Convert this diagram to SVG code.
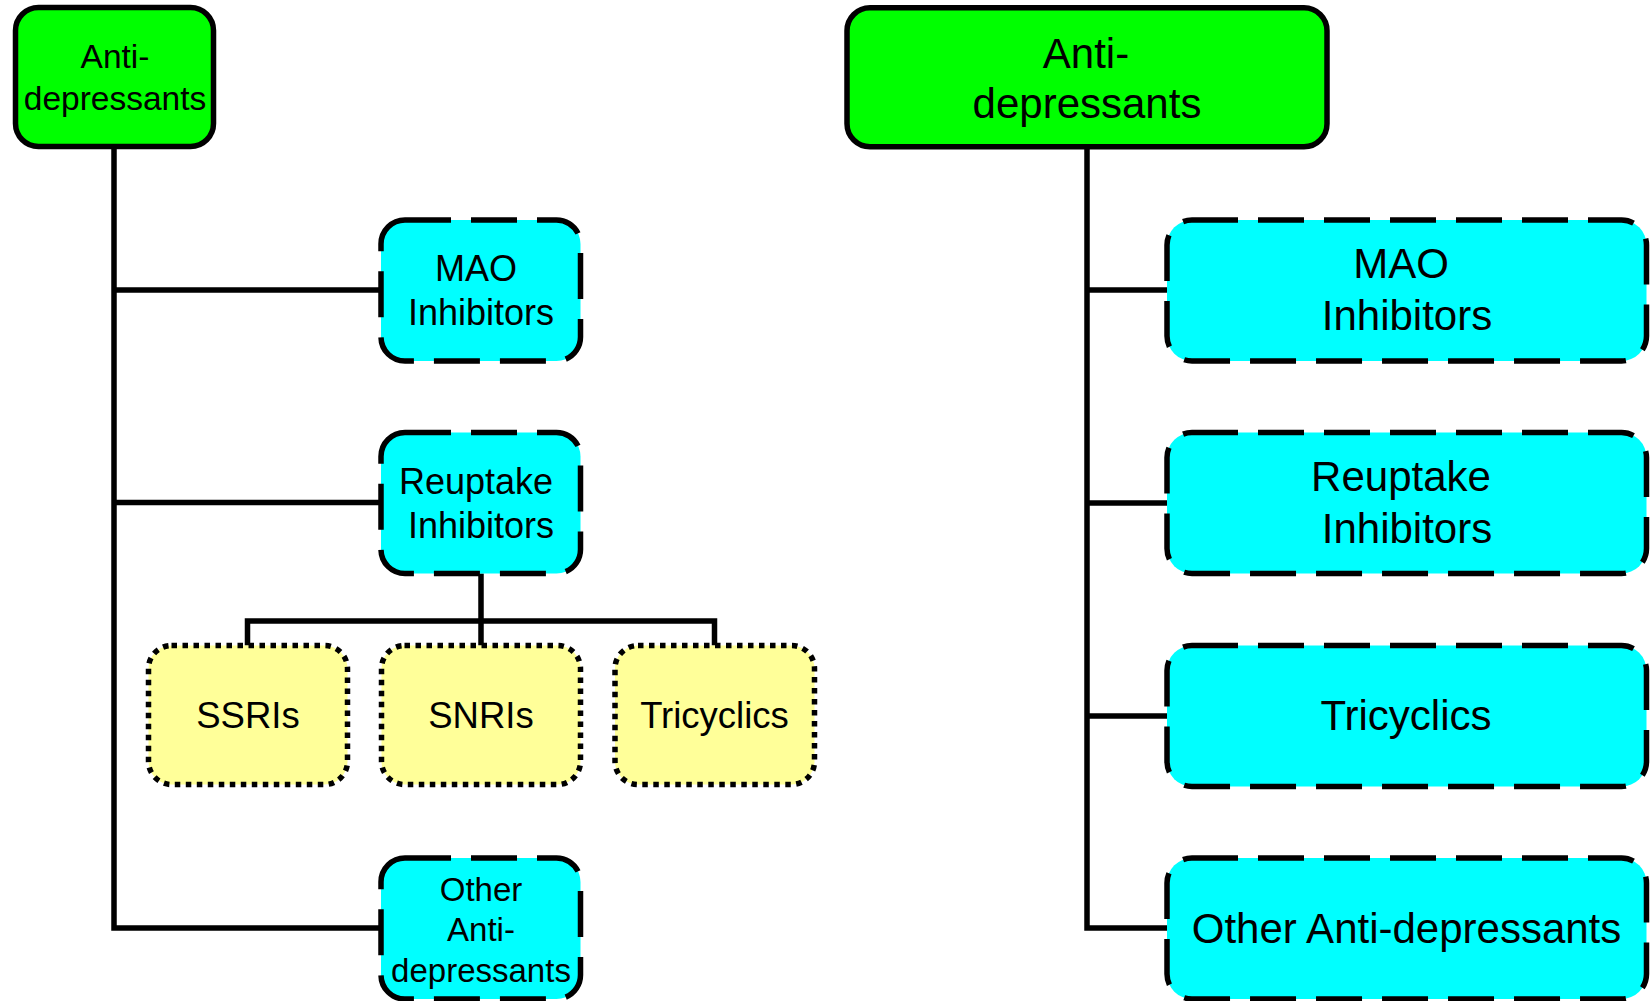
<svg xmlns="http://www.w3.org/2000/svg" width="1652" height="1001" viewBox="0 0 1652 1001">
<style>
.conn{fill:none;stroke:#000;stroke-width:5.5;stroke-linecap:butt;stroke-linejoin:miter}
.green{fill:#00FF00;stroke:#000;stroke-width:5.5}
.cyan{fill:#00FFFF;stroke:#000;stroke-width:5.5;stroke-dasharray:46 20}
.yellow{fill:#FFFF99;stroke:#000;stroke-width:5.5;stroke-dasharray:5.5 5.5}
text{font-family:"Liberation Sans",Arial,sans-serif;fill:#000;text-anchor:middle}
.s33{font-size:33px}
.s34{font-size:33.5px}
.s36{font-size:36px}
.s37{font-size:36.5px}
.s42{font-size:42px}
</style>
<rect width="1652" height="1001" fill="#fff"/>
<g id="connectors">
<path class="conn" d="M114,147 V928 H381 M114,290 H381 M114,502.5 H381"/>
<path class="conn" d="M481,573.5 V645.5 M247.5,645.5 V621 H714.5 V645.5"/>
<path class="conn" d="M1087,147 V928 H1167 M1087,290 H1167 M1087,503 H1167 M1087,716 H1167"/>
</g>
<g id="left-root">
<rect class="green" x="15.5" y="7.5" width="198" height="139" rx="23"/>
<text class="s34" x="115" y="68.3">Anti-</text>
<text class="s34" x="115" y="110">depressants</text>
</g>
<g id="left-mao">
<rect class="cyan" x="381" y="220" width="199.5" height="141" rx="24"/>
<text class="s36" x="476" y="281">MAO</text>
<text class="s36" x="481" y="325">Inhibitors</text>
</g>
<g id="left-reuptake">
<rect class="cyan" x="381" y="432.5" width="199.5" height="141" rx="24"/>
<text class="s36" x="476" y="494">Reuptake</text>
<text class="s36" x="481" y="538">Inhibitors</text>
</g>
<g id="left-ssris">
<rect class="yellow" x="148.5" y="645.5" width="199" height="139" rx="23"/>
<text class="s37" x="248" y="728.3">SSRIs</text>
</g>
<g id="left-snris">
<rect class="yellow" x="381.5" y="645.5" width="199" height="139" rx="23"/>
<text class="s37" x="481" y="728.3">SNRIs</text>
</g>
<g id="left-tricyclics">
<rect class="yellow" x="615" y="645.5" width="199.5" height="139" rx="23"/>
<text class="s37" x="714.5" y="728.3">Tricyclics</text>
</g>
<g id="left-other">
<rect class="cyan" x="381" y="858" width="199.5" height="141" rx="24"/>
<text class="s33" x="481" y="900.5">Other</text>
<text class="s33" x="481" y="941">Anti-</text>
<text class="s33" x="481" y="981.5">depressants</text>
</g>
<g id="right-root">
<rect class="green" x="847" y="7.75" width="480" height="139" rx="23"/>
<text class="s42" x="1086" y="68.3">Anti-</text>
<text class="s42" x="1087" y="118.3">depressants</text>
</g>
<g id="right-mao">
<rect class="cyan" x="1167" y="220" width="479.5" height="141" rx="25"/>
<text class="s42" x="1401" y="278">MAO</text>
<text class="s42" x="1407" y="330">Inhibitors</text>
</g>
<g id="right-reuptake">
<rect class="cyan" x="1167" y="432.5" width="479.5" height="141" rx="25"/>
<text class="s42" x="1401" y="490.5">Reuptake</text>
<text class="s42" x="1407" y="542.5">Inhibitors</text>
</g>
<g id="right-tricyclics">
<rect class="cyan" x="1167" y="645.5" width="479.5" height="141" rx="25"/>
<text class="s42" x="1406" y="730">Tricyclics</text>
</g>
<g id="right-other">
<rect class="cyan" x="1167" y="858" width="479.5" height="141" rx="25"/>
<text class="s42" x="1406.5" y="943">Other Anti-depressants</text>
</g>
</svg>
